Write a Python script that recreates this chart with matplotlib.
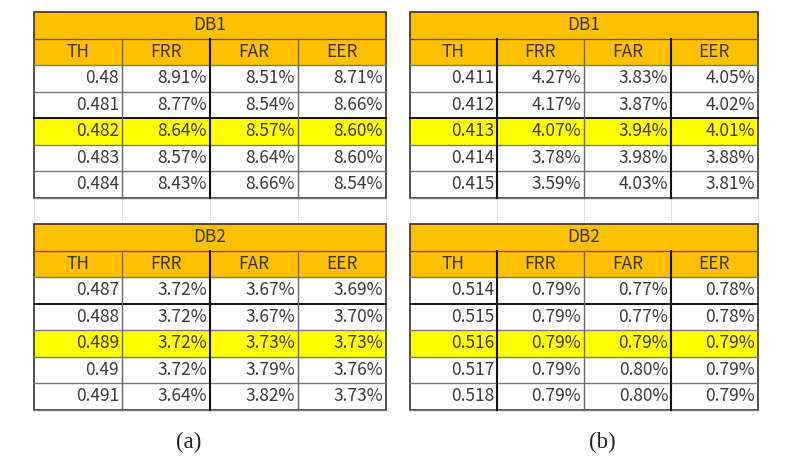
import matplotlib
matplotlib.use("Agg")
import matplotlib.pyplot as plt
from matplotlib.patches import Rectangle

# ---- data ----
columns = ["TH", "FRR", "FAR", "EER"]
captions = ["(a)", "(b)"]
db_titles = ["DB1", "DB2"]

a_db1_th = [0.48, 0.481, 0.482, 0.483, 0.484]
a_db1_frr = [8.91, 8.77, 8.64, 8.57, 8.43]
a_db1_far = [8.51, 8.54, 8.57, 8.64, 8.66]
a_db1_eer = [8.71, 8.66, 8.60, 8.60, 8.54]

a_db2_th = [0.487, 0.488, 0.489, 0.49, 0.491]
a_db2_frr = [3.72, 3.72, 3.72, 3.72, 3.64]
a_db2_far = [3.67, 3.67, 3.73, 3.79, 3.82]
a_db2_eer = [3.69, 3.70, 3.73, 3.76, 3.73]

b_db1_th = [0.411, 0.412, 0.413, 0.414, 0.415]
b_db1_frr = [4.27, 4.17, 4.07, 3.78, 3.59]
b_db1_far = [3.83, 3.87, 3.94, 3.98, 4.03]
b_db1_eer = [4.05, 4.02, 4.01, 3.88, 3.81]

b_db2_th = [0.514, 0.515, 0.516, 0.517, 0.518]
b_db2_frr = [0.79, 0.79, 0.79, 0.79, 0.79]
b_db2_far = [0.77, 0.77, 0.79, 0.80, 0.80]
b_db2_eer = [0.78, 0.78, 0.79, 0.79, 0.79]

highlight_row = 2

# ---- styling ----
W, H = 796, 468
ORANGE = "#FFC000"
YELLOW = "#FFFF00"
TXT = "#3a3a3a"
FONT = ["Noto Sans CJK KR", "DejaVu Sans"]
FS = 12.5

fig = plt.figure(figsize=(W / 100, H / 100), dpi=100)
ax = fig.add_axes([0, 0, 1, 1])
ax.set_xlim(0, W)
ax.set_ylim(H, 0)
ax.axis("off")

row_h = 26.5


def draw_table(x0, col_w, y0, title, th, frr, far, eer, black_cols, black_row):
    x1 = x0 + col_w * 4
    # title row
    ax.add_patch(Rectangle((x0, y0), x1 - x0, row_h, facecolor=ORANGE, edgecolor="none"))
    ax.text((x0 + x1) / 2, y0 + row_h / 2, title, ha="center", va="center",
            fontsize=FS, color=TXT, family=FONT)
    # header row
    yh = y0 + row_h
    ax.add_patch(Rectangle((x0, yh), x1 - x0, row_h, facecolor=ORANGE, edgecolor="none"))
    for i, c in enumerate(columns):
        ax.text(x0 + col_w * (i + 0.5), yh + row_h / 2, c, ha="center", va="center",
                fontsize=FS, color=TXT, family=FONT)
    # data rows
    yd = yh + row_h
    for r in range(len(th)):
        yr = yd + r * row_h
        fc = YELLOW if r == highlight_row else "white"
        ax.add_patch(Rectangle((x0, yr), x1 - x0, row_h, facecolor=fc, edgecolor="none"))
        vals = [str(th[r]), f"{frr[r]:.2f}%", f"{far[r]:.2f}%", f"{eer[r]:.2f}%"]
        for i, v in enumerate(vals):
            ax.text(x0 + col_w * (i + 1) - 3, yr + row_h / 2, v, ha="right", va="center",
                    fontsize=FS, color=TXT, family=FONT)
    yend = yd + len(th) * row_h
    # horizontal lines
    ax.plot([x0, x1], [y0 + row_h, y0 + row_h], color="#555555", lw=0.9)
    for r in range(len(th) + 1):
        yy = yd + r * row_h
        if r == black_row:
            ax.plot([x0, x1], [yy, yy], color="#111111", lw=1.4)
        else:
            ax.plot([x0, x1], [yy, yy], color="#777777", lw=1.0)
    # vertical lines
    for i in range(1, 4):
        xx = x0 + col_w * i
        if i in black_cols:
            ax.plot([xx, xx], [yh, yend], color="#111111", lw=1.5)
        else:
            ax.plot([xx, xx], [yh, yend], color="#666666", lw=1.0)
    # outer border
    ax.add_patch(Rectangle((x0, y0), x1 - x0, yend - y0, facecolor="none",
                           edgecolor="#333333", lw=1.2))
    return yend


def draw_panel(x0, col_w, black_cols, caption, cap_x, db1, db2):
    x1 = x0 + col_w * 4
    y_top = 12
    yend = draw_table(x0, col_w, y_top, db_titles[0], *db1, black_cols, 2)
    # empty spreadsheet row with faint gridlines
    y2 = yend + row_h
    for i in range(5):
        xx = x0 + col_w * i
        ax.plot([xx, xx], [yend, y2], color="#e4e4e4", lw=0.8, zorder=0)
    ax.plot([x0, x1], [y2 - 0.5, y2 - 0.5], color="#e4e4e4", lw=0.8, zorder=0)
    draw_table(x0, col_w, y2, db_titles[1], *db2, black_cols, 1)
    ax.text(cap_x, 442, caption, ha="center", va="center", fontsize=16.5,
            color="#222222", family=["Liberation Serif", "DejaVu Serif"])


draw_panel(34, 88, (2,), captions[0], 189,
           (a_db1_th, a_db1_frr, a_db1_far, a_db1_eer),
           (a_db2_th, a_db2_frr, a_db2_far, a_db2_eer))
draw_panel(410, 87, (1, 3), captions[1], 602,
           (b_db1_th, b_db1_frr, b_db1_far, b_db1_eer),
           (b_db2_th, b_db2_frr, b_db2_far, b_db2_eer))

fig.savefig("out.png", dpi=100, facecolor="white")
